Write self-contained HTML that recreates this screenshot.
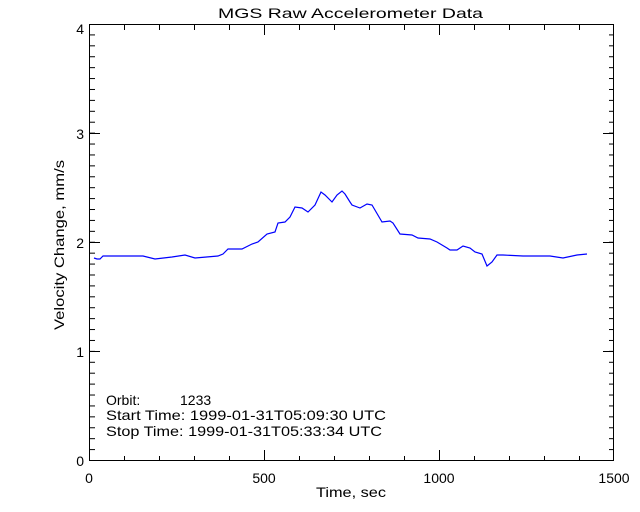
<!DOCTYPE html>
<html><head><meta charset="utf-8"><style>body{margin:0;background:#fff}svg{display:block}text{font-family:"Liberation Sans",sans-serif;font-size:14px;fill:#000}</style></head><body>
<svg width="640" height="512" xmlns="http://www.w3.org/2000/svg">
<defs>
<pattern id="py" patternUnits="userSpaceOnUse" width="20" height="10.9125" patternTransform="translate(0,460)"><rect x="0" y="0" width="20" height="1" fill="#000"/></pattern>
<pattern id="px" patternUnits="userSpaceOnUse" width="35" height="20" patternTransform="translate(89,0)"><rect x="0" y="0" width="1" height="20" fill="#000"/></pattern>
</defs>
<rect width="640" height="512" fill="#fff"/>
<rect x="90" y="25" width="5" height="436" fill="url(#py)"/>
<rect x="609" y="25" width="5" height="436" fill="url(#py)"/>
<rect x="89" y="456" width="525" height="5" fill="url(#px)"/>
<rect x="89" y="25" width="525" height="5" fill="url(#px)"/>
<g stroke="#000" stroke-width="1" fill="none" shape-rendering="crispEdges">
<rect x="89.5" y="24.5" width="524" height="436"/>
<path d="M90 351.5h10M90 242.5h10M90 133.5h10M603 351.5h10M603 242.5h10M603 133.5h10M264.5 460v-10M439.5 460v-10M264.5 25v10M439.5 25v10"/>
</g>
<polyline fill="none" stroke="#0000ff" stroke-width="1.2" points="94,258 97,259 100,259 103,256 143,256 155,259 172,257 185,255 195,258 218,256 223,254 228,249 242,249 252,244 258,242 267,234 275,232 278,223 285,222 290,217 295,207 302,208 308,212 315,205 321,192 325,195 332,202 337,195 342,191 345,194 350,202 352,205 360,208 367,204 372,205 382,222 390,221 393,223 400,234 412,235 418,238 430,239 437,242 447,248 450,250 457,250 463,246 470,248 475,252 482,254 487,266 492,262 497,255 503,255 523,256 550,256 563,258 577,255 587,254"/>
<text x="218" y="18" textLength="265" lengthAdjust="spacingAndGlyphs">MGS Raw Accelerometer Data</text>
<text x="84" y="466" text-anchor="end">0</text>
<text x="84" y="357" text-anchor="end">1</text>
<text x="84" y="248" text-anchor="end">2</text>
<text x="84" y="139" text-anchor="end">3</text>
<text x="84" y="34" text-anchor="end">4</text>
<text x="89" y="483" text-anchor="middle">0</text>
<text x="264" y="483" text-anchor="middle">500</text>
<text x="439" y="483" text-anchor="middle">1000</text>
<text x="614" y="483" text-anchor="middle">1500</text>
<text x="316" y="497" textLength="70" lengthAdjust="spacingAndGlyphs">Time, sec</text>
<text transform="translate(64,330) rotate(-90)" textLength="170" lengthAdjust="spacingAndGlyphs">Velocity Change, mm/s</text>
<text x="106" y="405">Orbit:</text><text x="180" y="405">1233</text>
<text x="106" y="420" textLength="280" lengthAdjust="spacingAndGlyphs">Start Time: 1999-01-31T05:09:30 UTC</text>
<text x="106" y="436" textLength="276" lengthAdjust="spacingAndGlyphs">Stop Time: 1999-01-31T05:33:34 UTC</text>
</svg></body></html>
